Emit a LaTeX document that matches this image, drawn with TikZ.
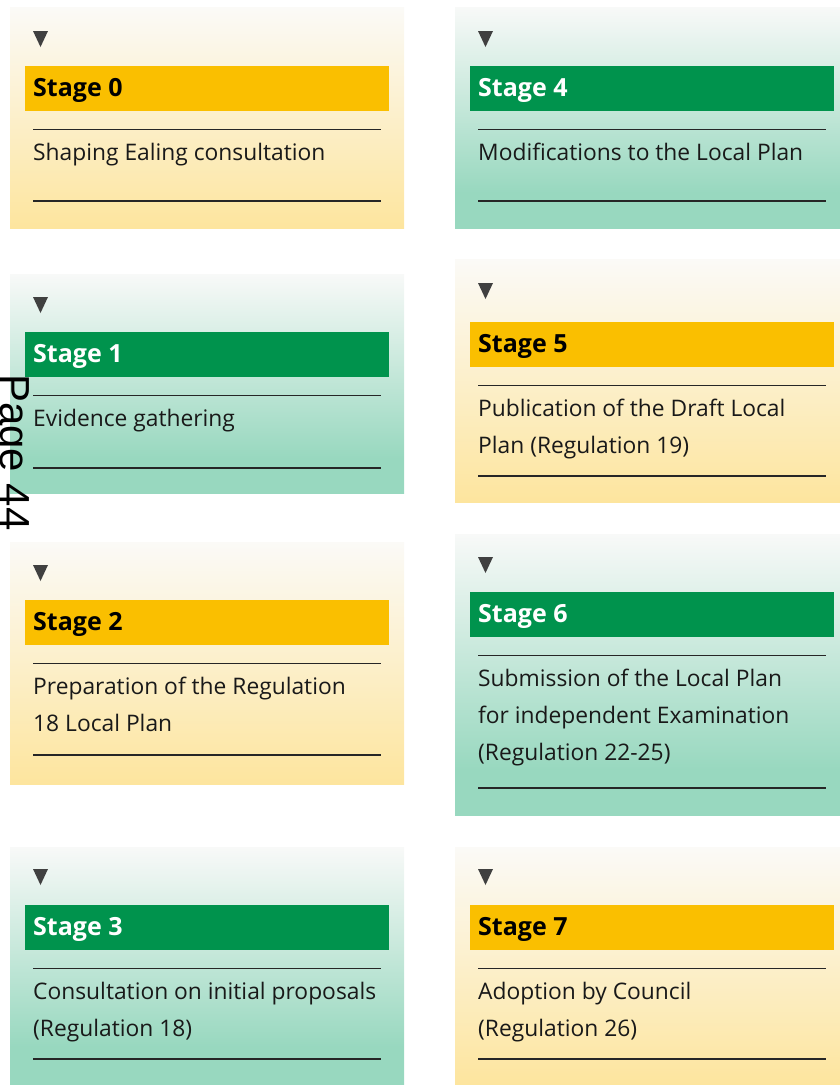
\documentclass[tikz,border=0pt]{standalone}
\usepackage{fontspec}
\setmainfont{Open Sans}
\newfontfamily\pagefont{Liberation Sans}
\definecolor{yT}{HTML}{FBFAF7}
\definecolor{yB}{HTML}{FDE59E}
\definecolor{gT}{HTML}{F8F9F8}
\definecolor{gB}{HTML}{98D8BF}
\definecolor{yH}{HTML}{FABF00}
\definecolor{gH}{HTML}{00934D}
\definecolor{trimark}{HTML}{404040}
\pgfdeclareverticalshading{yfade}{100bp}{color(0bp)=(yB); color(25bp)=(yB); color(75bp)=(yT); color(100bp)=(yT)}
\pgfdeclareverticalshading{gfade}{100bp}{color(0bp)=(gB); color(25bp)=(gB); color(33bp)=(gB); color(75bp)=(gT); color(100bp)=(gT)}
\tikzset{
  rule/.style={line width=1.2pt, draw=black!85},
  headtext/.style={anchor=base west, inner sep=0pt, font=\bfseries\fontsize{25}{30}\selectfont},
  yheadtext/.style={text=black},
  gheadtext/.style={text=white},
  bodytext/.style={anchor=base west, inner sep=0pt, font=\fontsize{22.8}{37}\selectfont, text=black!90},
  marker/.style={fill=trimark},
  pagetext/.style={anchor=base west, rotate=-90, inner sep=0pt, font=\pagefont\fontsize{42}{50}\selectfont}
}
% #1 x offset, #2 box top, #3 box bottom, #4 marker top, #5 header top,
% #6 bottom rule, #7 colour key (y/g), #8 title, #9 text
\newcommand\stagebox[9]{%
  \begin{scope}[shift={(#1,0)}]
    \shade[shading=#7fade] (10,-#2) rectangle (404,-#3);
    \fill[marker] (33,-#4) -- (48,-#4) -- (40.5,-#4-16) -- cycle;
    \fill[#7H] (25,-#5) rectangle (389,-#5-45);
    \node[headtext,#7headtext] (h#1x#5) at (33,-#5-30) {#8};
    \draw[rule] (33,-#5-63.5) -- (381,-#5-63.5);
    \node[bodytext] (t#1x#5) at (33,-#5-94.5) {\parbox[t]{400pt}{\raggedright #9}};
    \draw[rule] (33,-#6) -- (381,-#6);
  \end{scope}}
\begin{document}
\begin{tikzpicture}[x=1pt,y=1pt]
\useasboundingbox (0,0) rectangle (840,-1085);
\stagebox{0}{7}{228}{31}{66}{201}{y}{Stage 0}{Shaping Ealing consultation}
\stagebox{0}{274}{493}{297}{332}{468}{g}{Stage 1}{Evidence gathering}
\stagebox{0}{542}{784}{565}{600}{755}{y}{Stage 2}{Preparation of the Regulation\\18 Local Plan}
\stagebox{0}{847}{1085}{869}{905}{1059}{g}{Stage 3}{Consultation on initial proposals\\(Regulation 18)}
\stagebox{445}{7}{228}{31}{66}{201}{g}{Stage 4}{Modifications to the Local Plan}
\stagebox{445}{259}{502}{283}{322}{476}{y}{Stage 5}{Publication of the Draft Local\\Plan (Regulation 19)}
\stagebox{445}{534}{815}{557}{592}{788}{g}{Stage 6}{Submission of the Local Plan\\for independent Examination\\(Regulation 22-25)}
\stagebox{445}{847}{1085}{869}{905}{1059}{y}{Stage 7}{Adoption by Council\\(Regulation 26)}
\node[pagetext] (page) at (1,-374) {Page 44};
\end{tikzpicture}
\end{document}
